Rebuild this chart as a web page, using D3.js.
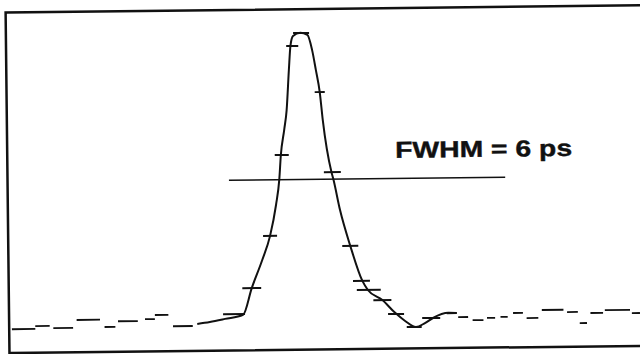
<!DOCTYPE html>
<html>
<head>
<meta charset="utf-8">
<script src="https://cdn.jsdelivr.net/npm/d3@7"></script>
<style>
  body { margin: 0; background: #fff; }
  svg { display: block; }
</style>
</head>
<body>
<svg id="pulse-chart"></svg>
<script>
//Pulse trace (time in ps, normalised intensity)
const curveTime = [20.9, 22.3, 24.0, 26.0, 27.0, 28.2, 29.1, 29.8, 30.2, 30.4, 30.8, 31.1, 31.4, 31.6, 31.9, 32.7, 33.5, 34.0, 34.4, 34.8, 35.1, 36.0, 36.2, 36.9, 38.0, 39.3, 39.9, 41.5, 42.9, 44.0, 45.2, 46.2, 47.1, 48.8, 49.7]
const curveValue = [0.012, 0.018, 0.028, 0.041, 0.132, 0.227, 0.309, 0.414, 0.502, 0.584, 0.669, 0.737, 0.874, 0.955, 0.989, 1.0, 0.992, 0.941, 0.872, 0.797, 0.702, 0.524, 0.5, 0.395, 0.272, 0.152, 0.121, 0.086, 0.042, 0.014, -0.007, 0.006, 0.023, 0.040, 0.039]

//Sample marks on the trace (centre and half width in ps)
const tickTime = [25.0, 27.0, 29.1, 30.5, 31.8, 32.8, 34.8, 36.1, 38.0, 39.2, 40.0, 41.5, 43.0, 45.0, 46.9, 49.2]
const tickValue = [0.044, 0.132, 0.309, 0.584, 0.955, 0.999, 0.797, 0.524, 0.272, 0.152, 0.121, 0.086, 0.038, -0.007, 0.023, 0.039]
const tickHalf = [1.22, 1.05, 0.78, 0.78, 0.67, 0.89, 0.56, 0.94, 0.89, 0.94, 1.33, 1.0, 0.89, 0.83, 1.0, 0.56]

//Background level, drawn as short dashes
const dashStart = [0.3, 2.9, 4.9, 7.5, 10.6, 12.1, 15.1, 16.2, 18.2, 49.9, 51.5, 53.1, 54.6, 56.0, 57.5, 59.2, 62.0, 63.4, 64.6, 66.2, 69.2]
const dashEnd = [2.9, 4.5, 7.1, 10.1, 11.8, 14.3, 16.2, 17.7, 20.4, 51.0, 52.7, 54.0, 55.4, 57.1, 58.8, 61.6, 63.2, 64.2, 66.0, 69.0, 70.1]
const dashValue = [0.001, 0.011, 0.003, 0.030, 0.005, 0.024, 0.030, 0.044, 0.005, 0.025, 0.014, 0.021, 0.024, 0.037, 0.019, 0.046, 0.038, 0.000, 0.034, 0.043, 0.032]

//Half maximum marker
const fwhmStart = 24.6
const fwhmEnd = 55.3
const fwhmLevel = 0.5
const fwhmLabel = "FWHM = 6 ps"

const width = 640
const height = 354
const ink = "#111"

const svg = d3.select('#pulse-chart')
  .attr('width', width)
  .attr('height', height)

// the scanned plot sits slightly rotated
const g = svg.append('g')
  .attr('transform', 'rotate(-0.65, 320, 177)')

const x = d3.scaleLinear()
  .domain([0, 71])
  .range([7.5, 646.5])

const y = d3.scaleLinear()
  .domain([-0.08, 1.08])
  .range([349.5, 9])

//Frame
g.append('rect')
  .attr('x', x(0))
  .attr('y', y(1.08))
  .attr('width', x(71) - x(0))
  .attr('height', y(-0.08) - y(1.08))
  .attr('fill', 'none')
  .attr('stroke', ink)
  .attr('stroke-width', 2.5)

//Background dashes
const dashes = dashStart.map((d, i) => ({ t0: d, t1: dashEnd[i], v: dashValue[i] }))
g.append('g')
  .selectAll('line')
  .data(dashes)
  .enter()
  .append('line')
  .attr('x1', d => x(d.t0))
  .attr('x2', d => x(d.t1))
  .attr('y1', d => y(d.v))
  .attr('y2', d => y(d.v))
  .attr('stroke', ink)
  .attr('stroke-width', 1.8)

//Trace
const trace = curveTime.map((t, i) => [t, curveValue[i]])
const line = d3.line()
  .x(d => x(d[0]))
  .y(d => y(d[1]))
  .curve(d3.curveMonotoneX)

g.append('path')
  .datum(trace)
  .attr('d', line)
  .attr('fill', 'none')
  .attr('stroke', ink)
  .attr('stroke-width', 2)

//Sample marks
const ticks = tickTime.map((t, i) => ({ t, v: tickValue[i], h: tickHalf[i] }))
g.append('g')
  .selectAll('line')
  .data(ticks)
  .enter()
  .append('line')
  .attr('x1', d => x(d.t - d.h))
  .attr('x2', d => x(d.t + d.h))
  .attr('y1', d => y(d.v))
  .attr('y2', d => y(d.v))
  .attr('stroke', ink)
  .attr('stroke-width', 2)

//FWHM line and label
g.append('line')
  .attr('x1', x(fwhmStart))
  .attr('x2', x(fwhmEnd))
  .attr('y1', y(fwhmLevel))
  .attr('y2', y(fwhmLevel))
  .attr('stroke', ink)
  .attr('stroke-width', 1.5)

g.append('text')
  .attr('x', x(43.1))
  .attr('y', y(0.57))
  .attr('font-family', 'Liberation Sans, Arial, sans-serif')
  .attr('font-weight', 'bold')
  .attr('font-size', 23)
  .attr('fill', ink)
  .attr('stroke', ink)
  .attr('stroke-width', 0.4)
  .attr('textLength', 177)
  .attr('lengthAdjust', 'spacingAndGlyphs')
  .text(fwhmLabel)
</script>
</body>
</html>
